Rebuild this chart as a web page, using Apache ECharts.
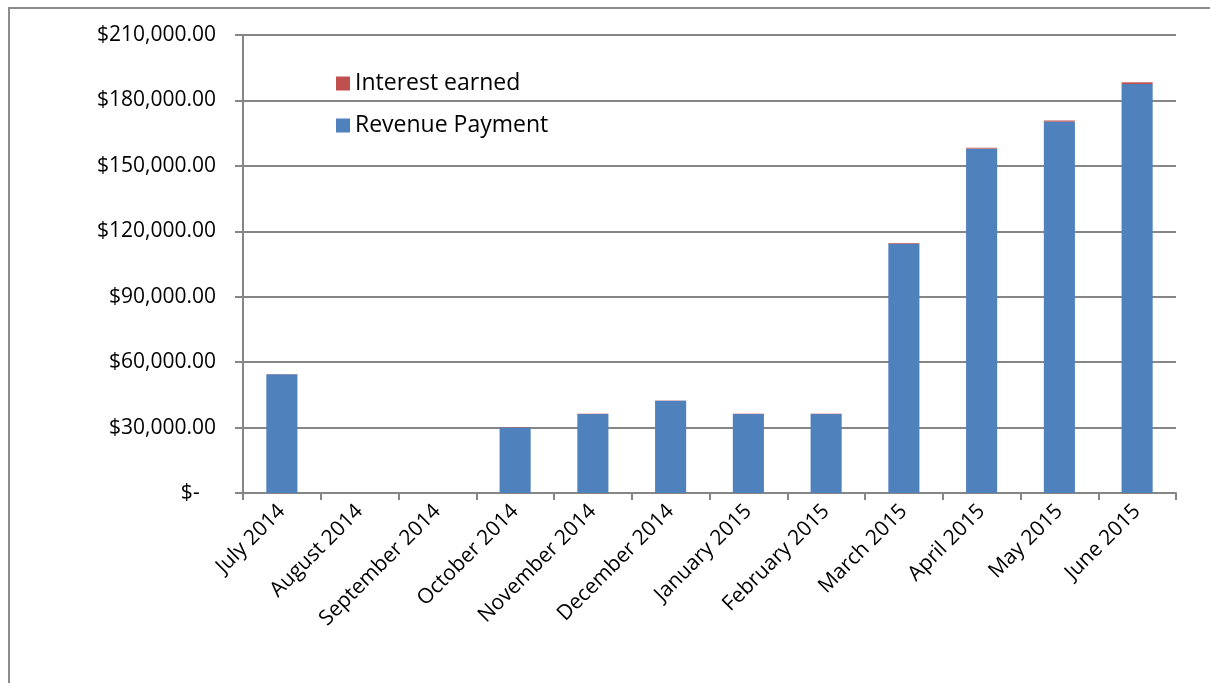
<!DOCTYPE html>
<html>
<head>
<meta charset="utf-8">
<script src="https://cdn.jsdelivr.net/npm/echarts@6/dist/echarts.min.js"></script>
<style>
  html, body { margin: 0; padding: 0; background: #fff; overflow: hidden; }
  #frame { position: absolute; left: 8px; top: 7px; width: 1400px; height: 900px; border: 2px solid #8c8c8c; box-sizing: border-box; }
  #chart { position: absolute; left: 0; top: 0; width: 1210px; height: 683px; }
</style>
</head>
<body>
<div id="frame"></div>
<div id="chart"></div>
<script>
// Monthly revenue payments with the small interest earned on top of each
const months = ['July 2014', 'August 2014', 'September 2014', 'October 2014', 'November 2014', 'December 2014',
  'January 2015', 'February 2015', 'March 2015', 'April 2015', 'May 2015', 'June 2015'];
const revenuePayment = [54400, 0, 0, 30000, 36200, 42300, 36200, 36200, 114300, 157900, 170300, 187500];
const interestEarned = [100, 0, 0, 150, 150, 100, 150, 150, 350, 400, 500, 800];
const yTicks = { min: 0, max: 210000, interval: 30000 };

const FONT = '"Open Sans", "Liberation Sans", sans-serif';
const chart = echarts.init(document.getElementById('chart'), null, { renderer: 'canvas' });

function money(v) {
  if (v === 0) return '$-   ';
  return '$' + v.toLocaleString('en-US', { minimumFractionDigits: 2, maximumFractionDigits: 2 });
}

chart.setOption({
  animation: false,
  backgroundColor: 'transparent',
  grid: { left: 243, right: 34, top: 35, bottom: 190, containLabel: false },
  legend: {
    orient: 'vertical',
    left: 331,
    top: 67,
    itemWidth: 14,
    itemHeight: 14,
    itemGap: 19,
    icon: 'rect',
    data: ['Interest earned', 'Revenue Payment'],
    textStyle: { fontFamily: FONT, fontSize: 23, color: '#000', padding: [0, 0, 0, 0] }
  },
  xAxis: {
    type: 'category',
    data: months,
    axisLine: { lineStyle: { color: '#868686', width: 2 } },
    axisTick: { show: true, alignWithLabel: false, length: 7, lineStyle: { color: '#868686', width: 2 } },
    axisLabel: { rotate: 45, margin: 15, interval: 0, fontFamily: FONT, fontSize: 21, color: '#000' }
  },
  yAxis: {
    type: 'value',
    min: yTicks.min,
    max: yTicks.max,
    interval: yTicks.interval,
    axisLine: { show: true, lineStyle: { color: '#868686', width: 2 } },
    axisTick: { show: true, length: 8, lineStyle: { color: '#868686', width: 2 } },
    splitLine: { lineStyle: { color: '#868686', width: 2 } },
    axisLabel: { margin: 27, fontFamily: FONT, fontSize: 21, color: '#000', formatter: money }
  },
  series: [
    {
      name: 'Revenue Payment',
      type: 'bar',
      stack: 'total',
      barWidth: '40%',
      itemStyle: { color: '#4F81BD' },
      data: revenuePayment
    },
    {
      name: 'Interest earned',
      type: 'bar',
      stack: 'total',
      barWidth: '40%',
      itemStyle: { color: '#C0504D' },
      data: interestEarned
    }
  ]
});
</script>
</body>
</html>
